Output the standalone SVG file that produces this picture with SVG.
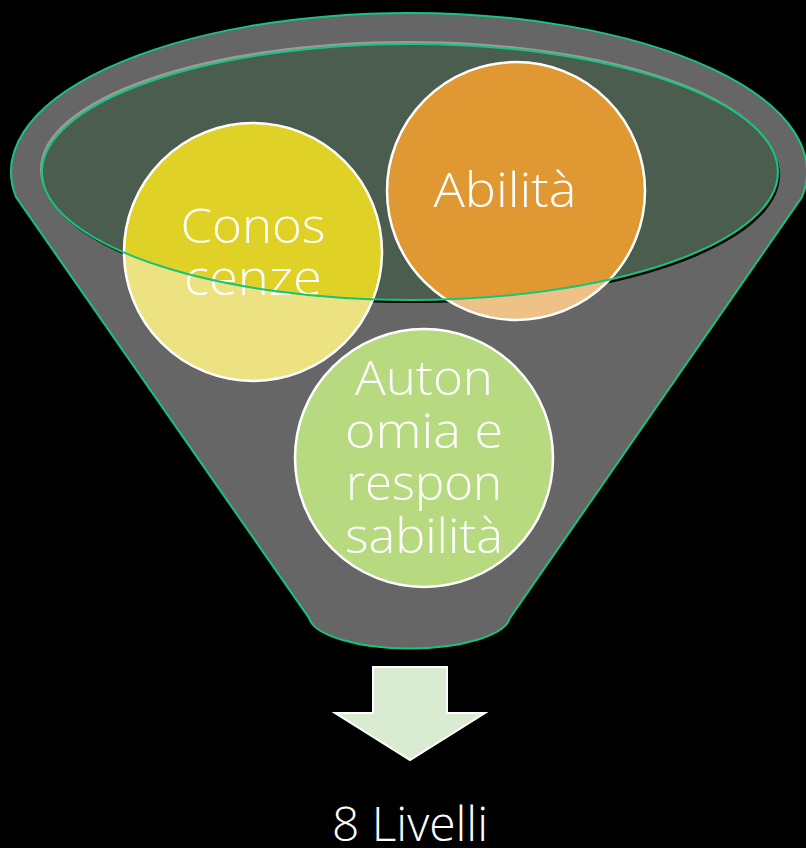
<svg xmlns="http://www.w3.org/2000/svg" width="806" height="848" viewBox="0 0 806 848">
<defs>
<style>
.lbl{font-family:"Open Sans","Liberation Sans",sans-serif;font-weight:300;font-size:48px;fill:#ffffff;text-anchor:middle}
.ring{fill:none;stroke:#ffffff;stroke-width:2.5}
.green{stroke:#17c47e;stroke-width:2}
</style>
<clipPath id="inMouth"><ellipse cx="410" cy="172" rx="368" ry="128"/></clipPath>
<clipPath id="outMouth"><path clip-rule="evenodd" d="M0 0H806V848H0Z M42 172A368 128 0 1 0 778 172A368 128 0 1 0 42 172Z"/></clipPath>
</defs>
<rect width="806" height="848" fill="#000000"/>
<g id="funnel">
<path class="green" fill="#666666" d="M16 197A398 159 0 1 1 802 197L510 618A101 34 0 0 1 309 618Z"/>
<ellipse cx="408" cy="169" rx="368" ry="128" fill="#9a9a9a"/>
<ellipse cx="412" cy="175" rx="368" ry="128" fill="#000000"/>
<ellipse cx="410" cy="172" rx="368" ry="128" fill="#4a5d4f"/>
</g>
<g id="conoscenze">
<circle cx="253" cy="252" r="129" fill="#ede281" clip-path="url(#outMouth)"/>
<circle cx="253" cy="252" r="129" fill="#e0d126" clip-path="url(#inMouth)"/>
<circle class="ring" cx="253" cy="252" r="129"/>
<text class="lbl"><tspan x="253" y="243" textLength="145" lengthAdjust="spacingAndGlyphs">Conos</tspan><tspan x="253" y="295" textLength="138" lengthAdjust="spacingAndGlyphs">cenze</tspan></text>
</g>
<g id="abilita">
<circle cx="516" cy="191" r="129" fill="#eec287" clip-path="url(#outMouth)"/>
<circle cx="516" cy="191" r="129" fill="#e09932" clip-path="url(#inMouth)"/>
<circle class="ring" cx="516" cy="191" r="129"/>
<text class="lbl" x="505" y="207" textLength="143" lengthAdjust="spacingAndGlyphs">Abilità</text>
</g>
<g id="autonomia">
<circle cx="424" cy="458" r="129" fill="#b7da81"/>
<circle class="ring" cx="424" cy="458" r="129"/>
<text class="lbl"><tspan x="424" y="395" textLength="138" lengthAdjust="spacingAndGlyphs">Auton</tspan><tspan x="424" y="448" textLength="158" lengthAdjust="spacingAndGlyphs">omia e</tspan><tspan x="424" y="500" textLength="156" lengthAdjust="spacingAndGlyphs">respon</tspan><tspan x="424" y="553" textLength="158" lengthAdjust="spacingAndGlyphs">sabilità</tspan></text>
</g>
<g id="mouth-rim">
<ellipse class="green" cx="410" cy="172" rx="368" ry="128" fill="none"/>
</g>
<g id="connectors">
<path d="M373 667H447V713H485L410 760L335 713H373Z" fill="#d9ebd0" stroke="#ffffff" stroke-width="2"/>
</g>
<g id="result">
<text class="lbl" x="410" y="841" textLength="156" lengthAdjust="spacingAndGlyphs">8 Livelli</text>
</g>
</svg>
